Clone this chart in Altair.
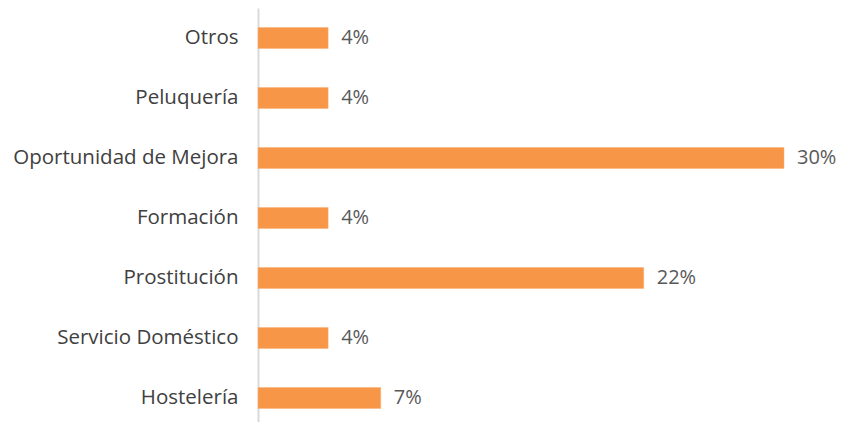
import altair as alt
import pandas as pd

categories = ["Otros", "Peluquería", "Oportunidad de Mejora", "Formación",
              "Prostitución", "Servicio Doméstico", "Hostelería"]
values = [4, 4, 30, 4, 22, 4, 7]
labels = ["4%", "4%", "30%", "4%", "22%", "4%", "7%"]

df = pd.DataFrame({"cat": categories, "val": values, "lab": labels})

FONT = "Open Sans"

y = alt.Y("cat:N", sort=categories, title=None,
          scale=alt.Scale(paddingInner=0.65, paddingOuter=0.325),
          axis=alt.Axis(domain=True, domainColor="#d9d9d9", domainWidth=2,
                        ticks=False, labelPadding=20, labelFontSize=20.5,
                        labelLimit=400,
                        labelFont=FONT, labelColor="#404040", grid=False))
x = alt.X("val:Q", title=None, scale=alt.Scale(domain=[0, 30], nice=False),
          axis=None)

bars = alt.Chart(df).mark_bar(color="#F79646", stroke="#FAB27A", strokeWidth=0.5).encode(y=y, x=x)
text = alt.Chart(df).mark_text(align="left", baseline="middle", dx=13,
                               font=FONT, fontSize=20, color="#595959").encode(
    y=alt.Y("cat:N", sort=categories), x="val:Q", text="lab:N")

chart = (bars + text).properties(
    width=526, height=420,
    background="white",
    autosize=alt.AutoSizeParams(type="none"),
    padding={"left": 250, "top": 0, "right": 54, "bottom": 0},
).configure_view(strokeWidth=0, stroke="transparent")

chart.save("out.html", embed_options={"renderer": "svg", "actions": False})
